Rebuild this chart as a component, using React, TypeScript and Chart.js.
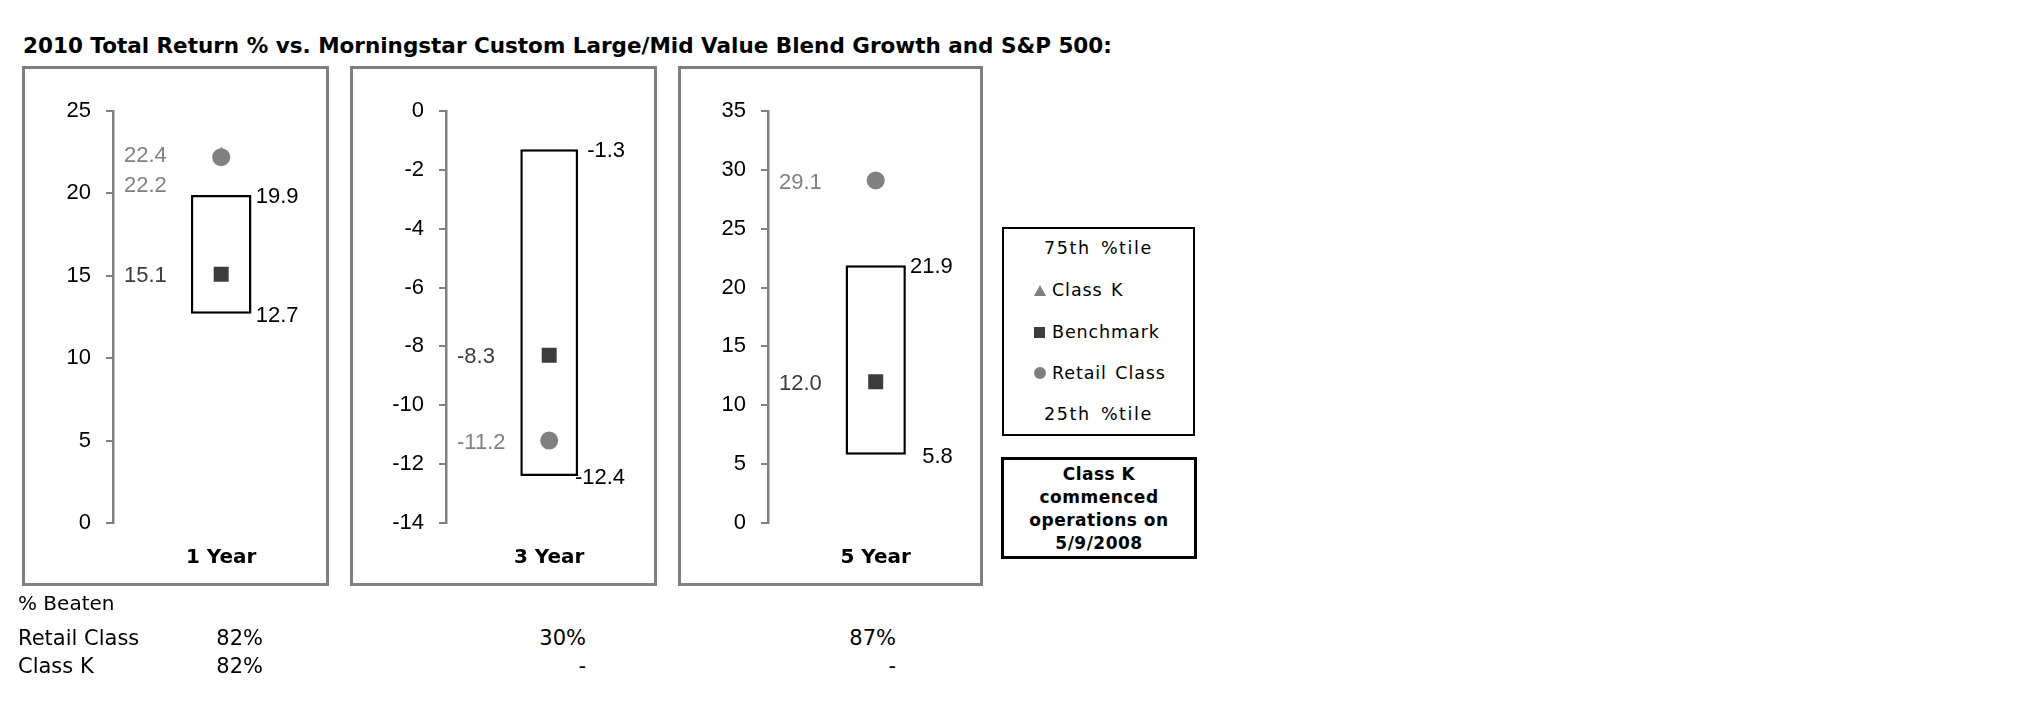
import React, { useEffect, useRef } from 'react';
import { Chart, registerables } from 'chart.js';

Chart.register(...registerables);

// ---------- data ----------
const title = '2010 Total Return % vs. Morningstar Custom Large/Mid Value Blend Growth and S&P 500:';
const periods = ['1 Year', '3 Year', '5 Year'];
const pct75 = [19.9, -1.3, 21.9];
const pct25 = [12.7, -12.4, 5.8];
const benchmark = [15.1, -8.3, 12.0];
const retailClass = [22.2, -11.2, 29.1];
const classK: (number | null)[] = [22.4, null, null];
const axisMin = [0, -14, 0];
const axisMax = [25, 0, 35];
const axisStep = [5, 2, 5];
const beatenTitle = '% Beaten';
const beatenRows = ['Retail Class', 'Class K'];
const beatenRetail = ['82%', '30%', '87%'];
const beatenClassK = ['82%', '-', '-'];
const legendTop = '75th %tile';
const legendSeries = ['Class K', 'Benchmark', 'Retail Class'];
const legendBottom = '25th %tile';
const noteLines = ['Class K', 'commenced', 'operations on', '5/9/2008'];

// ---------- layout / style ----------
const GRAY = '#808080';
const DARK = '#3c3c3c';
const PANEL_LEFT = [22, 350, 678];
const PANEL_WIDTH = [307, 307, 305];
const PANEL_TOP = 66;
const PANEL_HEIGHT = 520;
const AXIS_X = [113, 446, 768];
const CANVAS_WIDTH = [318, 313, 316];
const PLOT_TOP = 111;
const PLOT_BOTTOM = 523;
const NUM_FONT = '"Liberation Sans", Arial, sans-serif';
const VER_FONT = '"DejaVu Sans", Verdana, sans-serif';
const TABLE_COL_RIGHT = [263, 586, 896];

const valueLabels = {
  id: 'valueLabels',
  afterDatasetsDraw(chart: any) {
    const i = chart.options.plugins.valueLabels.index as number;
    const ctx = chart.ctx as CanvasRenderingContext2D;
    const y = chart.scales.y;
    const bar = chart.getDatasetMeta(0).data[0] as any;
    const right = bar.x + bar.width / 2;
    ctx.save();
    ctx.font = `22px ${NUM_FONT}`;
    ctx.textBaseline = 'middle';
    ctx.textAlign = 'right';
    ctx.fillStyle = '#000';
    ctx.fillText(pct75[i].toFixed(1), right + 47, y.getPixelForValue(pct75[i]) + 2);
    ctx.fillText(pct25[i].toFixed(1), right + 47, y.getPixelForValue(pct25[i]) + 2);

    const items: { v: number; c: string }[] = [];
    if (classK[i] !== null) items.push({ v: classK[i] as number, c: GRAY });
    items.push({ v: retailClass[i], c: GRAY });
    items.push({ v: benchmark[i], c: DARK });
    items.sort((a, b) => b.v - a.v);
    ctx.textAlign = 'left';
    let prev = -Infinity;
    const lx = chart.chartArea.left + 11;
    for (const it of items) {
      let py = y.getPixelForValue(it.v) + 2;
      if (py < prev + 26) py = prev + 30;
      ctx.fillStyle = it.c;
      ctx.fillText(it.v.toFixed(1), lx, py);
      prev = py;
    }
    ctx.restore();
  },
};

function Panel({ i }: { i: number }) {
  const ref = useRef<HTMLCanvasElement>(null);
  useEffect(() => {
    if (!ref.current) return;
    const chart = new Chart(ref.current, {
      type: 'bar',
      data: {
        labels: [periods[i]],
        datasets: [
          {
            type: 'bar',
            label: 'Percentile range',
            data: [[pct25[i], pct75[i]]] as any,
            backgroundColor: '#ffffff',
            borderColor: '#000000',
            borderWidth: 2.5,
            borderSkipped: false,
            barPercentage: 0.28,
            categoryPercentage: 1,
            order: 10,
          } as any,
          {
            type: 'line',
            label: 'Class K',
            data: [classK[i]],
            showLine: false,
            pointStyle: 'triangle',
            pointRadius: 7,
            pointBackgroundColor: GRAY,
            pointBorderColor: GRAY,
            pointBorderWidth: 0,
            order: 3,
          } as any,
          {
            type: 'line',
            label: 'Retail Class',
            data: [retailClass[i]],
            showLine: false,
            pointStyle: 'circle',
            pointRadius: 9,
            pointBackgroundColor: GRAY,
            pointBorderColor: GRAY,
            pointBorderWidth: 0,
            order: 2,
          } as any,
          {
            type: 'line',
            label: 'Benchmark',
            data: [benchmark[i]],
            showLine: false,
            pointStyle: 'rect',
            pointRadius: 10.6,
            pointBackgroundColor: DARK,
            pointBorderColor: DARK,
            pointBorderWidth: 0,
            order: 1,
          } as any,
        ],
      },
      options: {
        responsive: false,
        animation: false,
        devicePixelRatio: 1,
        layout: { padding: { top: PLOT_TOP - PANEL_TOP, left: 0, right: 0, bottom: 0 } },
        plugins: {
          legend: { display: false },
          tooltip: { enabled: false },
          valueLabels: { index: i },
        } as any,
        scales: {
          x: {
            type: 'category',
            offset: true,
            grid: { display: false, drawTicks: false },
            border: { display: false },
            ticks: {
              color: '#000',
              padding: 23,
              font: { family: VER_FONT, weight: 'bold', size: 20 },
            },
            afterFit(s: any) {
              s.height = PANEL_TOP + PANEL_HEIGHT - PLOT_BOTTOM;
              s.paddingLeft = 0;
              s.paddingRight = 0;
            },
          },
          y: {
            type: 'linear',
            min: axisMin[i],
            max: axisMax[i],
            ticks: {
              stepSize: axisStep[i],
              color: '#000',
              padding: 15,
              font: { family: NUM_FONT, size: 22 },
            },
            grid: { drawOnChartArea: false, tickLength: 7, color: GRAY, lineWidth: 2 },
            border: { color: GRAY, width: 2.5 },
            afterFit(s: any) {
              s.width = AXIS_X[i] - PANEL_LEFT[i];
            },
          },
        },
      } as any,
      plugins: [valueLabels as any],
    });
    return () => chart.destroy();
  }, [i]);
  return (
    <>
      <canvas
        ref={ref}
        width={CANVAS_WIDTH[i]}
        height={PANEL_HEIGHT}
        style={{ position: 'absolute', left: PANEL_LEFT[i], top: PANEL_TOP, width: CANVAS_WIDTH[i], height: PANEL_HEIGHT }}
      />
      <div
        style={{
          position: 'absolute',
          left: PANEL_LEFT[i],
          top: PANEL_TOP,
          width: PANEL_WIDTH[i],
          height: PANEL_HEIGHT,
          boxSizing: 'border-box',
          border: `3px solid ${GRAY}`,
          pointerEvents: 'none',
        }}
      />
    </>
  );
}

function Txt(props: { x: number; y: number; size: number; children: any; style?: any }) {
  return (
    <div
      style={{
        position: 'absolute',
        left: props.x,
        top: props.y,
        fontSize: props.size,
        lineHeight: `${props.size}px`,
        whiteSpace: 'nowrap',
        fontFamily: VER_FONT,
        color: '#000',
        ...props.style,
      }}
    >
      {props.children}
    </div>
  );
}

export default function App() {
  const legendRowY = [249, 290, 332, 373, 415];
  const markers = [
    <div key="t" style={{ width: 0, height: 0, borderLeft: '6px solid transparent', borderRight: '6px solid transparent', borderBottom: `11px solid ${GRAY}` }} />,
    <div key="s" style={{ width: 11, height: 11, background: DARK }} />,
    <div key="c" style={{ width: 12, height: 12, borderRadius: '50%', background: GRAY }} />,
  ];
  return (
    <div style={{ position: 'absolute', left: 0, top: 0, width: 2025, height: 717, background: '#fff', overflow: 'hidden' }}>
      <Txt x={23} y={35} size={21.5} style={{ fontWeight: 'bold' }}>{title}</Txt>

      {periods.map((_, i) => (
        <Panel key={i} i={i} />
      ))}

      {/* legend box */}
      <div style={{ position: 'absolute', left: 1002, top: 227, width: 193, height: 209, boxSizing: 'border-box', border: '2px solid #000' }} />
      <Txt x={1002} y={legendRowY[0] - 9} size={17.5} style={{ width: 193, textAlign: 'center', letterSpacing: 1.6, wordSpacing: 3 }}>{legendTop}</Txt>
      {legendSeries.map((s, k) => (
        <div key={s} style={{ position: 'absolute', left: 1034, top: legendRowY[k + 1] - 9, height: 18, display: 'flex', alignItems: 'center' }}>
          <div style={{ width: 14, display: 'flex', justifyContent: 'flex-start' }}>{markers[k]}</div>
          <span style={{ fontFamily: VER_FONT, fontSize: 17.5, lineHeight: '18px', letterSpacing: 0.9, wordSpacing: 2, marginLeft: 4 }}>{s}</span>
        </div>
      ))}
      <Txt x={1002} y={legendRowY[4] - 9} size={17.5} style={{ width: 193, textAlign: 'center', letterSpacing: 1.6, wordSpacing: 3 }}>{legendBottom}</Txt>

      {/* note box */}
      <div style={{ position: 'absolute', left: 1001, top: 457, width: 196, height: 102, boxSizing: 'border-box', border: '3px solid #000' }} />
      {noteLines.map((l, k) => (
        <Txt key={l} x={1001} y={474 + k * 23 - 8.5} size={17} style={{ width: 196, textAlign: 'center', fontWeight: 'bold', letterSpacing: 0.5 }}>{l}</Txt>
      ))}

      {/* % beaten table */}
      <Txt x={18} y={593} size={20}>{beatenTitle}</Txt>
      <Txt x={18} y={628} size={21}>{beatenRows[0]}</Txt>
      <Txt x={18} y={655.5} size={21}>{beatenRows[1]}</Txt>
      {periods.map((_, i) => (
        <React.Fragment key={i}>
          <Txt x={TABLE_COL_RIGHT[i] - 100} y={628} size={21} style={{ width: 100, textAlign: 'right' }}>{beatenRetail[i]}</Txt>
          <Txt x={TABLE_COL_RIGHT[i] - 100} y={655.5} size={21} style={{ width: 100, textAlign: 'right' }}>{beatenClassK[i]}</Txt>
        </React.Fragment>
      ))}
    </div>
  );
}
